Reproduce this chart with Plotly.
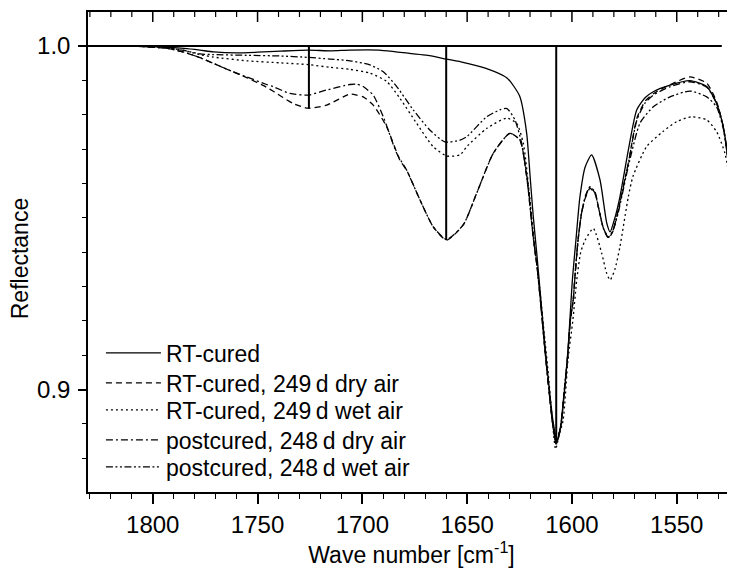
import plotly.graph_objects as go

# ---------------- data (wave number in cm^-1, reflectance) ----------------
wn_rt = [1831, 1811, 1795, 1785, 1777.5, 1771, 1760, 1750, 1739, 1726, 1715, 1706, 1692, 1684,
         1668, 1660, 1653, 1641, 1631, 1625, 1621.6, 1620.0, 1618.5, 1616.7, 1614.8, 1612.9,
         1611.0, 1609.1, 1607.1, 1605.2, 1603.3, 1601.9, 1600.7, 1599.8, 1598.1, 1596.2, 1593.7,
         1590.6, 1586.6, 1583.4, 1581.8, 1579.5, 1577.1, 1573.1, 1569.1, 1565, 1561.2, 1553.2,
         1543.7, 1535.7, 1531, 1527.8, 1524.6, 1523, 1521]
r_rt = [1.0000, 1.0000, 0.9997, 0.9993, 0.9988, 0.9983, 0.9980, 0.9982, 0.9985, 0.9988, 0.9986,
        0.9988, 0.9988, 0.9983, 0.9972, 0.9962, 0.9954, 0.9935, 0.9907, 0.9855, 0.9746, 0.9624,
        0.9507, 0.9391, 0.9260, 0.9129, 0.9013, 0.8911, 0.8850, 0.8897, 0.9013, 0.9115, 0.9231,
        0.9319, 0.9435, 0.9560, 0.9648, 0.9683, 0.9610, 0.9485, 0.9459, 0.9500, 0.9561, 0.9697,
        0.9814, 0.9850, 0.9867, 0.9886, 0.9899, 0.9882, 0.9833, 0.9765, 0.9620, 0.9493, 0.9350]

wn_rt_dry = [1831, 1811, 1793, 1785, 1777.5, 1771.3, 1761.7, 1755.2, 1745.7, 1742.7, 1733.1, 1726,
             1717, 1706, 1702.7, 1699.6, 1694.8, 1688.4, 1682.1, 1678.9, 1672.5, 1666.2, 1659.8,
             1651.8, 1645.5, 1637.5, 1629.6, 1624.8, 1621.6, 1618.5, 1616.5, 1614.6, 1612.8, 1611.0,
             1609.3, 1607.5, 1605.5, 1603.6, 1602.0, 1600.8, 1599.4, 1598.3, 1597.0, 1595.4, 1593.5,
             1591.4, 1589.0, 1587.4, 1585.0, 1582.6, 1580.5, 1577.9, 1573.1, 1569, 1565, 1561, 1553,
             1543.7, 1535.7, 1531, 1527.8, 1524.6, 1523, 1521]
r_rt_dry = [1.0000, 1.0000, 0.9993, 0.9982, 0.9966, 0.9950, 0.9925, 0.9908, 0.9880, 0.9869, 0.9833,
            0.9819, 0.9828, 0.9860, 0.9857, 0.9852, 0.9828, 0.9765, 0.9668, 0.9639, 0.9552, 0.9474,
            0.9435, 0.9480, 0.9571, 0.9688, 0.9746, 0.9726, 0.9620, 0.9445, 0.9350, 0.9230, 0.9110,
            0.9000, 0.8905, 0.8844, 0.8890, 0.9000, 0.9100, 0.9200, 0.9261, 0.9350, 0.9440, 0.9514,
            0.9560, 0.9586, 0.9570, 0.9532, 0.9470, 0.9441, 0.9460, 0.9523, 0.9659, 0.9790, 0.9840,
            0.9862, 0.9888, 0.9910, 0.9892, 0.9838, 0.9765, 0.9620, 0.9490, 0.9350]

wn_rt_wet = [1831, 1811, 1795, 1785, 1777.5, 1771.3, 1755.2, 1739.3, 1726, 1715.5, 1705.9, 1696.4,
             1688.4, 1682.1, 1674.1, 1666.2, 1659.8, 1653.4, 1650.2, 1640.7, 1631.2, 1626.4, 1623.2,
             1620.5, 1618.0, 1615.5, 1613.5, 1611.5, 1609.6, 1607.8, 1606.0, 1604.2, 1601.9, 1599.6,
             1597.7, 1595.8, 1593.7, 1589.8, 1585.8, 1583.5, 1581.8, 1579.5, 1577.1, 1573.1, 1570.9,
             1564.4, 1556.6, 1550, 1542.9, 1535.7, 1531, 1527, 1523.8, 1522.2, 1521]
r_rt_wet = [1.0000, 1.0000, 0.9996, 0.9987, 0.9975, 0.9968, 0.9957, 0.9951, 0.9946, 0.9938, 0.9932,
            0.9921, 0.9897, 0.9848, 0.9775, 0.9707, 0.9680, 0.9683, 0.9707, 0.9760, 0.9790, 0.9775,
            0.9717, 0.9580, 0.9430, 0.9300, 0.9180, 0.9060, 0.8930, 0.8827, 0.8870, 0.8911, 0.9086,
            0.9200, 0.9319, 0.9400, 0.9435, 0.9469, 0.9397, 0.9340, 0.9319, 0.9350, 0.9416, 0.9561,
            0.9620, 0.9707, 0.9751, 0.9780, 0.9794, 0.9785, 0.9751, 0.9688, 0.9572, 0.9474, 0.9400]

wn_pc_dry = [1831, 1811, 1793, 1785, 1777.5, 1771.3, 1761.7, 1755.2, 1745.7, 1742.7, 1734.5, 1726,
             1717, 1706, 1702.7, 1699.6, 1694.8, 1690, 1683.6, 1678.9, 1672.5, 1666.2, 1659.8,
             1651.8, 1645.5, 1637.5, 1629.6, 1624.8, 1621.6, 1618.5, 1616.5, 1614.6, 1612.8, 1611.0,
             1609.3, 1607.5, 1605.5, 1603.6, 1602.0, 1600.8, 1599.4, 1598.3, 1597.0, 1595.4, 1593.5,
             1591.4, 1589.0, 1587.4, 1585.0, 1582.6, 1580.5, 1577.9, 1573.1, 1569, 1565, 1561, 1553,
             1543.7, 1535.7, 1531, 1527.8, 1524.6, 1523, 1521]
r_pc_dry = [1.0000, 1.0000, 0.9993, 0.9982, 0.9966, 0.9950, 0.9925, 0.9910, 0.9888, 0.9882, 0.9862,
            0.9857, 0.9872, 0.9888, 0.9889, 0.9882, 0.9857, 0.9794, 0.9688, 0.9639, 0.9552, 0.9474,
            0.9437, 0.9480, 0.9571, 0.9688, 0.9746, 0.9726, 0.9620, 0.9445, 0.9350, 0.9230, 0.9110,
            0.9000, 0.8905, 0.8844, 0.8890, 0.9000, 0.9100, 0.9200, 0.9261, 0.9350, 0.9440, 0.9514,
            0.9562, 0.9590, 0.9572, 0.9532, 0.9470, 0.9443, 0.9462, 0.9523, 0.9659, 0.9785, 0.9835,
            0.9858, 0.9882, 0.9896, 0.9880, 0.9833, 0.9765, 0.9620, 0.9490, 0.9350]

wn_pc_wet = [1831, 1811, 1795, 1785, 1777.5, 1771.3, 1755.2, 1739.3, 1726, 1715.5, 1705.9, 1696.4,
             1690, 1683.6, 1675.7, 1667.7, 1660.6, 1653.4, 1650.2, 1640.7, 1634.4, 1631, 1627.2,
             1624, 1621, 1618.5, 1616.5, 1614.6, 1612.8, 1611.0, 1609.3, 1607.5, 1605.5, 1603.6,
             1602.0, 1600.8, 1599.4, 1598.3, 1597.0, 1595.4, 1593.5, 1591.4, 1589.0, 1587.4, 1585.0,
             1582.6, 1580.5, 1577.9, 1573.1, 1567.5, 1561.2, 1553.2, 1543.7, 1535.7, 1531, 1527.8,
             1524.6, 1523, 1521]
r_pc_wet = [1.0000, 1.0000, 0.9996, 0.9987, 0.9977, 0.9975, 0.9973, 0.9971, 0.9967, 0.9962, 0.9957,
            0.9945, 0.9925, 0.9882, 0.9814, 0.9755, 0.9721, 0.9726, 0.9736, 0.9794, 0.9814, 0.9818,
            0.9785, 0.9717, 0.9600, 0.9445, 0.9350, 0.9230, 0.9110, 0.9000, 0.8905, 0.8844, 0.8890,
            0.9000, 0.9100, 0.9200, 0.9261, 0.9350, 0.9440, 0.9514, 0.9565, 0.9590, 0.9575, 0.9532,
            0.9470, 0.9445, 0.9462, 0.9515, 0.9650, 0.9776, 0.9823, 0.9852, 0.9869, 0.9852, 0.9823,
            0.9760, 0.9620, 0.9490, 0.9350]

series_names = ["RT-cured", "RT-cured, 249\u2009d dry air", "RT-cured, 249\u2009d wet air",
                "postcured, 248\u2009d dry air", "postcured, 248\u2009d wet air"]
series_x = [wn_rt, wn_rt_dry, wn_rt_wet, wn_pc_dry, wn_pc_wet]
series_y = [r_rt, r_rt_dry, r_rt_wet, r_pc_dry, r_pc_wet]
series_dash = ["solid", "6px,4px", "2px,3px", "7px,3px,2px,3px", "7px,2.5px,2px,2.5px,2px,2.5px"]

# band markers (wave number, depth) and baseline
band_wn = [1725.5, 1660.0, 1607.5]
band_depth = [0.9819, 0.9435, 0.8840]
baseline_wn = [1831, 1528.5, None, 1525.0, 1522.2]
baseline_r = [1.0, 1.0, None, 1.0, 1.0]

# axis scales and ticks
x_range = [1830.9, 1522.2]
y_range = [0.8702, 1.0099]
x_ticks = [1800, 1750, 1700, 1650, 1600, 1550]
y_ticks = [0.9, 1.0]
x_minor_step = 10      # cm^-1
y_minor_step = 0.01

# legend row positions (paper fraction of plot height)
legend_rows = [0.2896, 0.2271, 0.1708, 0.1083, 0.0521]

FONT = "Liberation Sans, Arial, sans-serif"
PLOT_W, PLOT_H = 647, 480


def frac(v, rng):
    """position of value v as a fraction of the axis range (same linear map as the axis)"""
    return (v - rng[0]) / (rng[1] - rng[0])


fig = go.Figure()

legend_ids = ["legend", "legend2", "legend3", "legend4", "legend5"]
for name, xs, ys, dash, lid in zip(series_names, series_x, series_y, series_dash, legend_ids):
    fig.add_trace(go.Scatter(x=xs, y=ys, name=name, mode="lines", legend=lid,
                             line=dict(color="black", width=1.3, dash=dash, shape="spline",
                                       smoothing=0.6)))

mx, my = [], []
for w, d in zip(band_wn, band_depth):
    mx += [w, w, None]
    my += [1.0, d, None]
fig.add_trace(go.Scatter(x=mx, y=my, mode="lines", showlegend=False, hoverinfo="skip",
                         line=dict(color="black", width=2)))
fig.add_trace(go.Scatter(x=baseline_wn, y=baseline_r, mode="lines", showlegend=False,
                         hoverinfo="skip", line=dict(color="black", width=2)))

# inward ticks on the top and right frame (mirror of the axis ticks)
shapes = []
lo_x = int(min(x_range) // x_minor_step + 1) * x_minor_step
hi_x = int(max(x_range) // x_minor_step) * x_minor_step
for v in range(int(lo_x), int(hi_x) + 1, x_minor_step):
    L = 10 if v in x_ticks else 5
    px = frac(v, x_range)
    shapes.append(dict(type="line", xref="paper", yref="paper", x0=px, x1=px,
                       y0=1, y1=1 - L / PLOT_H, layer="above",
                       line=dict(color="black", width=1.5 if L == 10 else 1.2)))
for k in range(round(y_range[0] / y_minor_step) + 1, round(y_range[1] / y_minor_step) + 1):
    v = round(k * y_minor_step, 2)
    if v > y_range[1]:
        continue
    L = 7 if v in y_ticks else 4
    py = frac(v, y_range)
    shapes.append(dict(type="line", xref="paper", yref="paper", x0=1, x1=1 - L / PLOT_W,
                       y0=py, y1=py, layer="above",
                       line=dict(color="black", width=1.5 if L == 7 else 1.2)))

leg_common = dict(x=0.02, xanchor="left", yanchor="middle", bgcolor="rgba(0,0,0,0)",
                  borderwidth=0, font=dict(size=23, family=FONT, color="black"), itemwidth=55)
legends = {lid: dict(y=yy, **leg_common) for lid, yy in zip(legend_ids, legend_rows)}

# the page has an 8 px body margin: the figure is sized/placed to compensate
fig.update_layout(
    width=727, height=560,
    margin=dict(l=80, r=0, t=4, b=76, autoexpand=False),
    paper_bgcolor="white", plot_bgcolor="white",
    font=dict(family=FONT, color="black", size=24),
    showlegend=True,
    shapes=shapes,
    xaxis=dict(range=x_range, showline=True, mirror=True, linecolor="black", linewidth=1.5,
               showgrid=False, zeroline=False, automargin=False,
               ticks="outside", ticklen=10, tickwidth=1.5, tickcolor="black", tickvals=x_ticks,
               tickfont=dict(size=24),
               minor=dict(dtick=x_minor_step, tick0=1800, ticks="outside", ticklen=5,
                          tickwidth=1.2, tickcolor="black"),
               title=dict(text="Wave number [cm<sup>-1</sup>]", font=dict(size=23), standoff=10)),
    yaxis=dict(range=y_range, showline=True, linecolor="black", linewidth=1.5,
               showgrid=False, zeroline=False, automargin=False,
               ticks="outside", ticklen=8, tickwidth=1.5, tickcolor="black", tickvals=y_ticks,
               tickformat=".1f", tickfont=dict(size=24), ticklabelstandoff=3,
               minor=dict(dtick=y_minor_step, tick0=0.9, ticks="outside", ticklen=4,
                          tickwidth=1.2, tickcolor="black")),
    annotations=[dict(text="Reflectance", textangle=-90, xref="paper", yref="paper",
                      x=-0.105, y=0.485, xanchor="center", yanchor="middle", showarrow=False,
                      font=dict(size=23, family=FONT))],
    **legends,
)

fig.write_html("out.html")
